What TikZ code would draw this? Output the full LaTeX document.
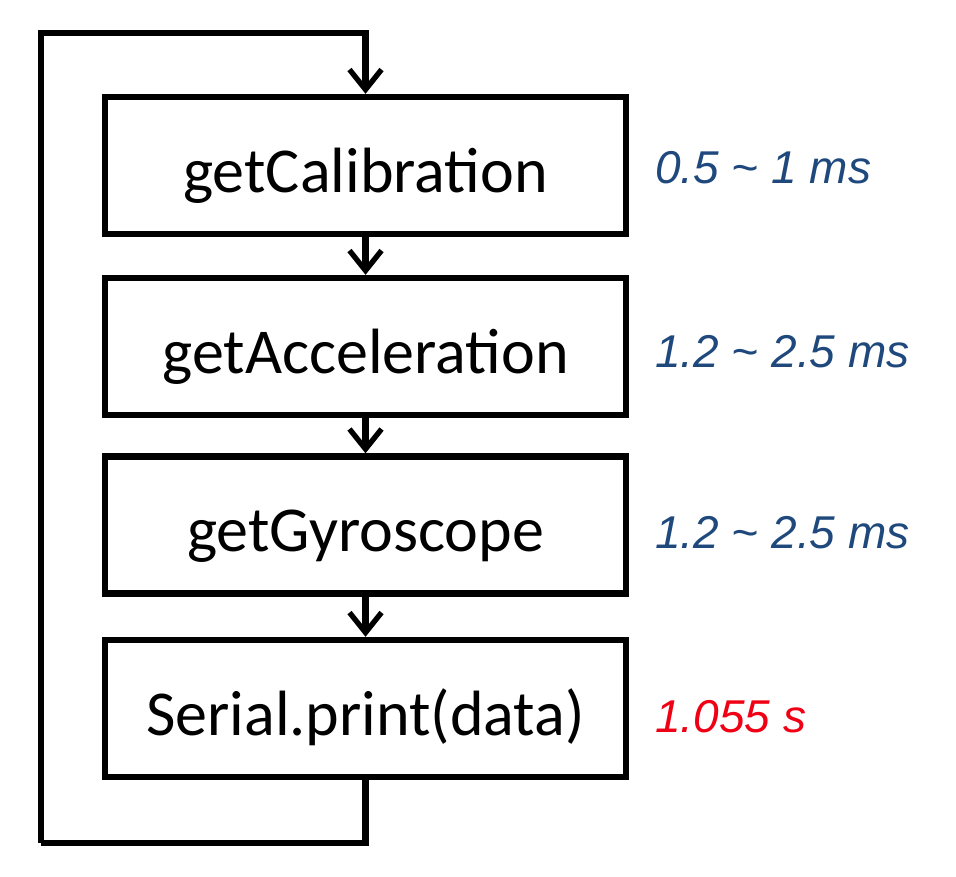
\documentclass[tikz,border=0pt]{standalone}
\usepackage{fontspec}
\setmainfont{Carlito}
\newfontfamily\labfont{Liberation Sans}
\usetikzlibrary{arrows.meta}
\definecolor{labblue}{RGB}{31,73,125}
\definecolor{labred}{RGB}{240,0,20}
\begin{document}
\begin{tikzpicture}[x=0.75pt,y=-0.75pt,
  stepbox/.style={draw, line width=4.8pt, fill=white, inner sep=0pt,
    minimum width=390.75pt, minimum height=102.75pt,
    text height=40pt, text depth=0pt,
    font=\fontsize{48}{58}\selectfont},
  timelabel/.style={anchor=base west, inner sep=0pt,
    font=\labfont\itshape\fontsize{34.5}{40}\selectfont},
  flow/.style={line width=4.8pt, line join=miter,
    -{Straight Barb[length=15pt,width=24pt,line width=4pt]}},
  loopline/.style={line width=4.8pt, line join=miter}]
\useasboundingbox (0,0) rectangle (956,876);
\fill[white] (0,0) rectangle (956,876);

\node[stepbox] (b1) at (365.5,165.5) {getCalibration};
\node[stepbox] (b2) at (365.5,346.5) {getAcceleration};
\node[stepbox] (b3) at (365.5,525)   {getGyroscope};
\node[stepbox] (b4) at (365.5,708.5) {Serial.print(data)};

\node[timelabel, text=labblue] (t1) at (655,183) {0.5 \char"007E\ 1 ms};
\node[timelabel, text=labblue] (t2) at (655,367) {1.2 \char"007E\ 2.5 ms};
\node[timelabel, text=labblue] (t3) at (655,548) {1.2 \char"007E\ 2.5 ms};
\node[timelabel, text=labred]  (t4) at (655,732) {1.055 s};

\draw[flow] (b1.south) -- (b2.north);
\draw[flow] (b2.south) -- (b3.north);
\draw[flow] (b3.south) -- (b4.north);

\coordinate (bl) at (41,843);
\coordinate (tl) at (41,33);
\draw[loopline] (b4.south) |- (bl);
\draw[flow] (bl) -- (tl) -| (b1.north);
\end{tikzpicture}
\end{document}
